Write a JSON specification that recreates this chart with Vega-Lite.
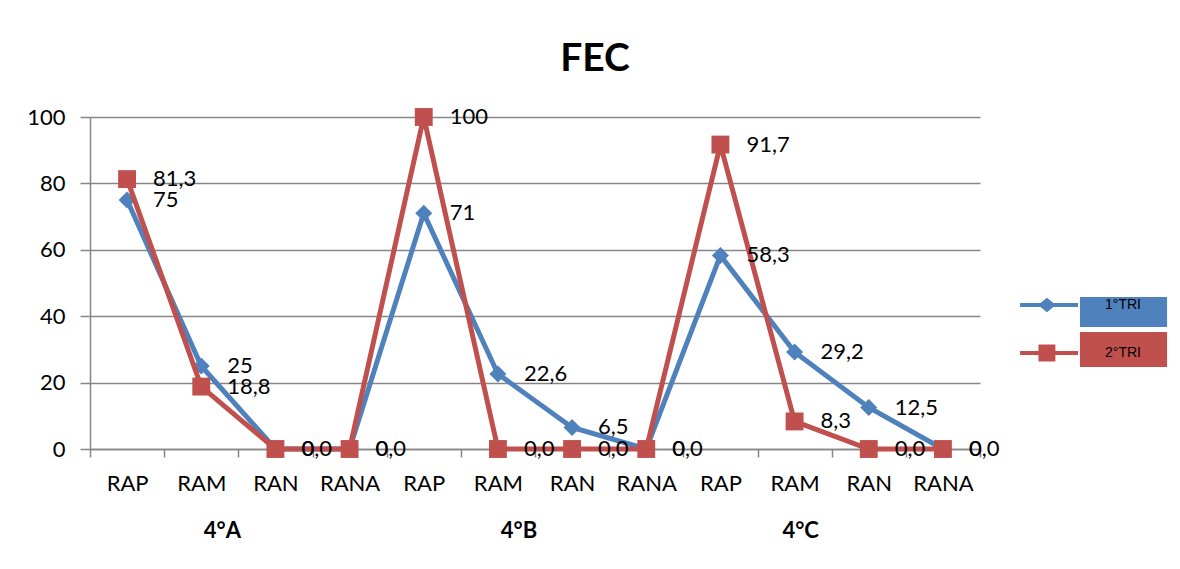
{
  "$schema": "https://vega.github.io/schema/vega-lite/v6.json",
  "width": 890,
  "height": 332,
  "autosize": {"type": "none"},
  "padding": {"left": 90, "top": 117, "right": 200, "bottom": 120},
  "background": "white",
  "config": {"view": {"stroke": null}},
  "title": {"text": "FEC", "font": "Lato", "fontSize": 39, "fontWeight": "bold", "color": "black", "anchor": "middle", "dx": 60, "offset": 27},
  "data": {"values": [
    {"key": "4°A RAP", "group": "4°A", "series": "1°TRI", "value": 75, "label": "75"},
    {"key": "4°A RAM", "group": "4°A", "series": "1°TRI", "value": 25, "label": "25"},
    {"key": "4°A RAN", "group": "4°A", "series": "1°TRI", "value": 0, "label": "0"},
    {"key": "4°A RANA", "group": "4°A", "series": "1°TRI", "value": 0, "label": "0"},
    {"key": "4°B RAP", "group": "4°B", "series": "1°TRI", "value": 71, "label": "71"},
    {"key": "4°B RAM", "group": "4°B", "series": "1°TRI", "value": 22.6, "label": "22,6"},
    {"key": "4°B RAN", "group": "4°B", "series": "1°TRI", "value": 6.5, "label": "6,5"},
    {"key": "4°B RANA", "group": "4°B", "series": "1°TRI", "value": 0, "label": "0"},
    {"key": "4°C RAP", "group": "4°C", "series": "1°TRI", "value": 58.3, "label": "58,3"},
    {"key": "4°C RAM", "group": "4°C", "series": "1°TRI", "value": 29.2, "label": "29,2"},
    {"key": "4°C RAN", "group": "4°C", "series": "1°TRI", "value": 12.5, "label": "12,5"},
    {"key": "4°C RANA", "group": "4°C", "series": "1°TRI", "value": 0, "label": "0"},
    {"key": "4°A RAP", "group": "4°A", "series": "2°TRI", "value": 81.3, "label": "81,3"},
    {"key": "4°A RAM", "group": "4°A", "series": "2°TRI", "value": 18.8, "label": "18,8"},
    {"key": "4°A RAN", "group": "4°A", "series": "2°TRI", "value": 0, "label": "0,0"},
    {"key": "4°A RANA", "group": "4°A", "series": "2°TRI", "value": 0, "label": "0,0"},
    {"key": "4°B RAP", "group": "4°B", "series": "2°TRI", "value": 100, "label": "100"},
    {"key": "4°B RAM", "group": "4°B", "series": "2°TRI", "value": 0, "label": "0,0"},
    {"key": "4°B RAN", "group": "4°B", "series": "2°TRI", "value": 0, "label": "0,0"},
    {"key": "4°B RANA", "group": "4°B", "series": "2°TRI", "value": 0, "label": "0,0"},
    {"key": "4°C RAP", "group": "4°C", "series": "2°TRI", "value": 91.7, "label": "91,7"},
    {"key": "4°C RAM", "group": "4°C", "series": "2°TRI", "value": 8.3, "label": "8,3"},
    {"key": "4°C RAN", "group": "4°C", "series": "2°TRI", "value": 0, "label": "0,0"},
    {"key": "4°C RANA", "group": "4°C", "series": "2°TRI", "value": 0, "label": "0,0"}
  ]},
  "layer": [
    {
      "encoding": {
        "x": {"field": "key", "type": "nominal", "sort": null,
          "scale": {"type": "band", "paddingInner": 0, "paddingOuter": 0},
          "axis": {"title": null, "labelExpr": "split(datum.label, ' ')[1]", "labelAngle": 0, "tickBand": "extent",
            "domainColor": "#868686", "domainWidth": 1.5, "tickColor": "#868686", "tickWidth": 1.5, "tickSize": 8,
            "labelFont": "Lato", "labelFontSize": 22, "labelColor": "black", "labelPadding": 16, "grid": false}},
        "y": {"field": "value", "type": "quantitative",
          "scale": {"domain": [0, 100], "nice": false},
          "axis": {"title": null, "values": [0, 20, 40, 60, 80, 100], "grid": true, "gridColor": "#868686", "gridWidth": 1.5,
            "domainColor": "#868686", "domainWidth": 1.5, "tickColor": "#868686", "tickWidth": 1.5, "tickSize": 10,
            "labelFont": "Lato", "labelFontSize": 22, "labelColor": "black", "labelPadding": 15}}
      },
      "layer": [
        {"transform": [{"filter": "datum.series === '1°TRI'"}],
         "mark": {"type": "line", "strokeWidth": 5, "color": "#4F81BD"}},
        {"transform": [{"filter": "datum.series === '1°TRI'"}],
         "mark": {"type": "point", "shape": "diamond", "filled": true, "opacity": 1, "size": 290, "color": "#4F81BD"}},
        {"transform": [{"filter": "datum.series === '2°TRI'"}],
         "mark": {"type": "line", "strokeWidth": 5, "color": "#C0504D"}},
        {"transform": [{"filter": "datum.series === '2°TRI'"}],
         "mark": {"type": "point", "shape": "square", "filled": true, "opacity": 1, "size": 320, "color": "#C0504D"}},
        {"mark": {"type": "text", "align": "left", "baseline": "middle", "dx": 26, "font": "Lato", "fontSize": 22, "color": "black"},
         "encoding": {"text": {"field": "label", "type": "nominal"}}},
        {"transform": [{"filter": "false"}],
         "mark": {"type": "point", "filled": true, "opacity": 1, "strokeWidth": 4},
         "encoding": {
           "fill": {"field": "series", "type": "nominal", "scale": {"domain": ["1°TRI", "2°TRI"], "range": ["#4F81BD", "#C0504D"]},
             "legend": {"title": null, "orient": "none", "legendX": 984, "legendY": 169, "padding": 0, "symbolSize": 1156, "symbolStrokeWidth": 4, "labelAlign": "center", "labelOffset": 11, "labelFont": "Liberation Sans", "labelFontSize": 14, "labelColor": "black", "rowPadding": -9, "symbolOpacity": 1}},
           "stroke": {"field": "series", "type": "nominal", "scale": {"domain": ["1°TRI", "2°TRI"], "range": ["#4F81BD", "#C0504D"]},
             "legend": {"title": null, "orient": "none", "legendX": 984, "legendY": 169, "padding": 0, "symbolSize": 1156, "symbolStrokeWidth": 4, "labelAlign": "center", "labelOffset": 11, "labelFont": "Liberation Sans", "labelFontSize": 14, "labelColor": "black", "rowPadding": -9, "symbolOpacity": 1}},
           "shape": {"field": "series", "type": "nominal",
             "scale": {"domain": ["1°TRI", "2°TRI"], "range": [
               "M-4.29,0H-0.88M-2.71,-0.28L-2.37,0L-2.71,0.28L-3.05,0ZM-0.65,-0.35H4.24V1.18H-0.65Z",
               "M-4.29,0H-0.88M-3.09,-0.38H-2.33V0.38H-3.09ZM-0.65,-1.12H4.24V0.71H-0.65Z"]},
             "legend": {"title": null, "orient": "none", "legendX": 984, "legendY": 169, "padding": 0, "symbolSize": 1156, "symbolStrokeWidth": 4, "labelAlign": "center", "labelOffset": 11, "labelFont": "Liberation Sans", "labelFontSize": 14, "labelColor": "black", "rowPadding": -9, "symbolOpacity": 1}}
         }}
      ]
    },
    {
      "mark": {"type": "point", "opacity": 0},
      "encoding": {
        "x": {"field": "group", "type": "nominal", "sort": null,
          "scale": {"type": "band", "paddingInner": 0, "paddingOuter": 0},
          "axis": {"orient": "bottom", "title": null, "domain": false, "ticks": false, "labelAngle": 0,
            "labelFont": "Lato", "labelFontSize": 22, "labelFontWeight": "bold", "labelColor": "black", "labelPadding": 71,
            "labelOffset": {"condition": {"test": "datum.value === '4°C'", "value": -31}, "value": -16}}},
        "y": {"field": "value", "type": "quantitative"}
      }
    }
  ],
  "resolve": {"scale": {"x": "independent"}}
}
